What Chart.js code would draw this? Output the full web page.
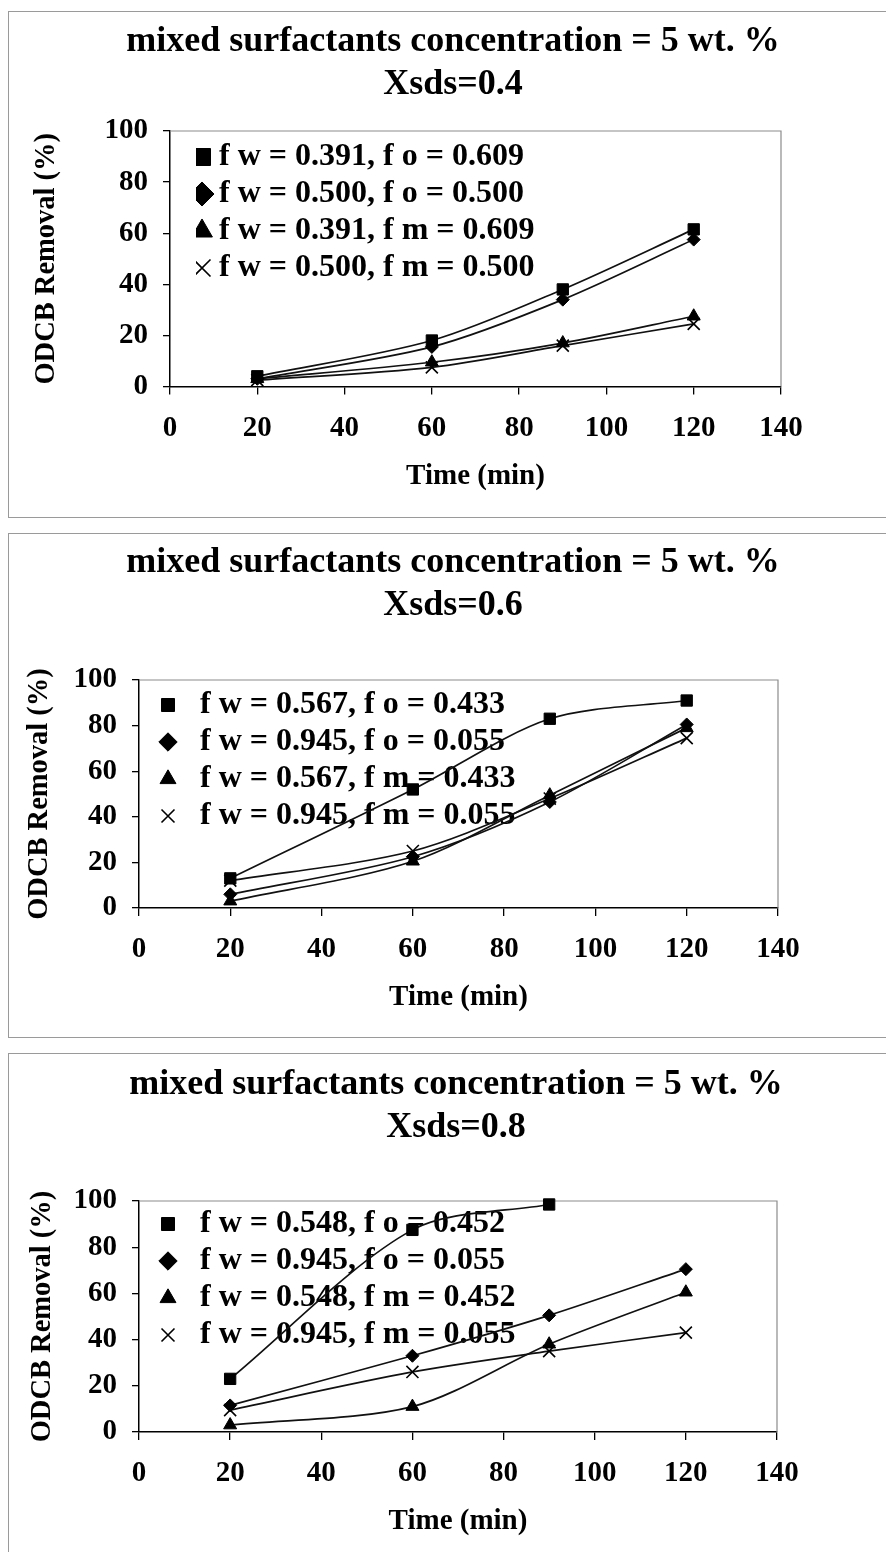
<!DOCTYPE html>
<html>
<head>
<meta charset="utf-8">
<script src="https://cdn.jsdelivr.net/npm/chart.js@4.4.1/dist/chart.umd.min.js"></script>
<style>
  html, body { margin: 0; padding: 0; background: #fff; }
  body { width: 886px; height: 1552px; position: relative; overflow: hidden; }
  .frame { position: absolute; left: 8px; width: 890px; box-sizing: border-box;
           border-top: 1px solid #9a9a9a; border-left: 1px solid #9a9a9a; border-bottom: 1px solid #9a9a9a; }
  canvas { position: absolute; left: 0; }
</style>
</head>
<body>
<div class="frame" style="top:11px;height:507px"></div>
<div class="frame" style="top:533px;height:505px"></div>
<div class="frame" style="top:1053px;height:510px"></div>
<canvas id="c1" width="886" height="507" style="top:11px"></canvas>
<canvas id="c2" width="886" height="504" style="top:533px"></canvas>
<canvas id="c3" width="886" height="499" style="top:1053px"></canvas>
<script>
// sampling times (min)
const times = [20, 60, 90, 120];

const mainTitle = 'mixed surfactants concentration = 5 wt. %';
const xTitle = 'Time (min)';
const yTitle = 'ODCB Removal (%)';

// Xsds = 0.4
const labels04 = ['f w = 0.391, f o = 0.609', 'f w = 0.500, f o = 0.500', 'f w = 0.391, f m = 0.609', 'f w = 0.500, f m = 0.500'];
const sq04 = [4, 18, 38, 61.5];
const dia04 = [3, 15.5, 34, 57.5];
const tri04 = [3, 9.5, 17, 27.5];
const cross04 = [2.5, 7.5, 16, 24.5];

// Xsds = 0.6
const labels06 = ['f w = 0.567, f o = 0.433', 'f w = 0.945, f o = 0.055', 'f w = 0.567, f m = 0.433', 'f w = 0.945, f m = 0.055'];
const sq06 = [13, 52, 83, 91];
const dia06 = [6, 22.5, 46.5, 80.5];
const tri06 = [3, 20.5, 49.5, 79];
const cross06 = [12, 25, 48, 74.5];

// Xsds = 0.8 (no 120 min point for the first series)
const labels08 = ['f w = 0.548, f o = 0.452', 'f w = 0.945, f o = 0.055', 'f w = 0.548, f m = 0.452', 'f w = 0.945, f m = 0.055'];
const sq08 = [23, 87.5, 98.5, null];
const dia08 = [11.5, 33, 50.5, 70.5];
const tri08 = [3, 11, 38, 60.5];
const cross08 = [9.5, 26, 35, 43];

const markers = ['rect', 'rectRot', 'triangle', 'crossRot'];
const markerSize = [8, 6.5, 7.5, 8.5];

Chart.defaults.font.family = '"Liberation Serif", "Times New Roman", serif';
Chart.defaults.font.weight = 'bold';
Chart.defaults.color = '#000';

// gray top/right edge of the plot box
const plotFrame = {
  id: 'plotFrame',
  beforeDatasetsDraw(chart) {
    const { ctx, chartArea: a } = chart;
    ctx.save();
    ctx.strokeStyle = '#8c8c8c';
    ctx.lineWidth = 1.2;
    ctx.beginPath();
    ctx.moveTo(a.left, a.top);
    ctx.lineTo(a.right, a.top);
    ctx.lineTo(a.right, a.bottom);
    ctx.stroke();
    ctx.restore();
  }
};

// the vertical legend box gets top = 0, so pin it inside the plot area
const legendShift = {
  id: 'legendShift',
  afterLayout(chart, args, opts) {
    const lg = chart.legend;
    if (!lg) return;
    const a = chart.chartArea;
    lg.left = a.left + (opts.dx || 0);
    lg.top = a.top + (opts.dy || 0);
    lg.bottom = lg.top + lg.height;
    lg.right = lg.left + lg.width;
  }
};

function toPoints(vals) {
  return times.map((t, i) => ({ x: t, y: vals[i] })).filter(p => p.y !== null);
}

function makeChart(id, xsds, labels, series, p) {
  const datasets = series.map((vals, i) => ({
    label: labels[i],
    data: toPoints(vals),
    borderColor: '#111',
    borderWidth: 1.7,
    backgroundColor: '#000',
    pointStyle: markers[i],
    pointRadius: markerSize[i],
    pointBackgroundColor: '#000',
    pointBorderColor: '#000',
    pointBorderWidth: markers[i] === 'crossRot' ? 1.6 : 1,
    tension: 0.3,
    clip: false
  }));

  return new Chart(document.getElementById(id), {
    type: 'line',
    data: { datasets },
    options: {
      responsive: false,
      animation: false,
      events: [],
      layout: { padding: { left: p.padLeft, right: 0, top: 0, bottom: p.padBottom } },
      plugins: {
        title: {
          display: true,
          text: [mainTitle, xsds],
          font: { size: 36, lineHeight: 1.2 },
          padding: { top: p.titleTop, bottom: p.titleBottom }
        },
        legend: {
          position: 'chartArea',
          align: 'start',
          labels: {
            usePointStyle: true,
            boxWidth: p.boxWidth,
            boxHeight: p.boxHeight,
            padding: 5,
            color: '#000',
            font: { size: 32 }
          }
        },
        legendShift: { dx: p.legendDx, dy: p.legendDy },
        tooltip: { enabled: false }
      },
      scales: {
        x: {
          type: 'linear',
          min: 0,
          max: 140,
          ticks: { stepSize: 20, autoSkip: false, maxRotation: 0, padding: 16.6, font: { size: 29 } },
          grid: { drawOnChartArea: false, tickLength: 8, color: '#000', lineWidth: 1.3 },
          border: { color: '#000', width: 1.5 },
          title: { display: true, text: xTitle, font: { size: 29 }, padding: 0 },
          afterFit(s) { s.height = 107.4; }
        },
        y: {
          min: 0,
          max: 100,
          ticks: { stepSize: 20, padding: 15, font: { size: 29 } },
          grid: { drawOnChartArea: false, tickLength: 7, color: '#000', lineWidth: 1.3 },
          border: { color: '#000', width: 1.5 },
          title: { display: true, text: yTitle, font: { size: 28.5 }, padding: { top: p.yTitlePad, bottom: 0 } },
          afterFit(s) { s.width = p.yWidth; }
        },
        y2: {
          position: 'right',
          min: 0,
          max: 1,
          ticks: { display: false },
          grid: { display: false },
          border: { display: false },
          afterFit(s) { s.width = p.rightWidth; }
        }
      }
    },
    plugins: [plotFrame, legendShift]
  });
}

makeChart('c1', 'Xsds=0.4', labels04, [sq04, dia04, tri04, cross04], {
  padLeft: 20, padBottom: 24.1, titleTop: 9.4, titleBottom: 24.2,
  yWidth: 150, yTitlePad: 9.5, rightWidth: 105,
  boxWidth: 2, boxHeight: 17, legendDx: 26, legendDy: 5
});

makeChart('c2', 'Xsds=0.6', labels06, [sq06, dia06, tri06, cross06], {
  padLeft: 20, padBottom: 21.6, titleTop: 8.4, titleBottom: 52.2,
  yWidth: 119, yTitlePad: 2.9, rightWidth: 108,
  boxWidth: 32, boxHeight: 13, legendDx: 8, legendDy: 4
});

makeChart('c3', 'Xsds=0.8', labels08, [sq08, dia08, tri08, cross08], {
  padLeft: 26, padBottom: 12.6, titleTop: 10.4, titleBottom: 51.2,
  yWidth: 113, yTitlePad: 0, rightWidth: 109,
  boxWidth: 32, boxHeight: 13, legendDx: 8, legendDy: 2
});
</script>
</body>
</html>
